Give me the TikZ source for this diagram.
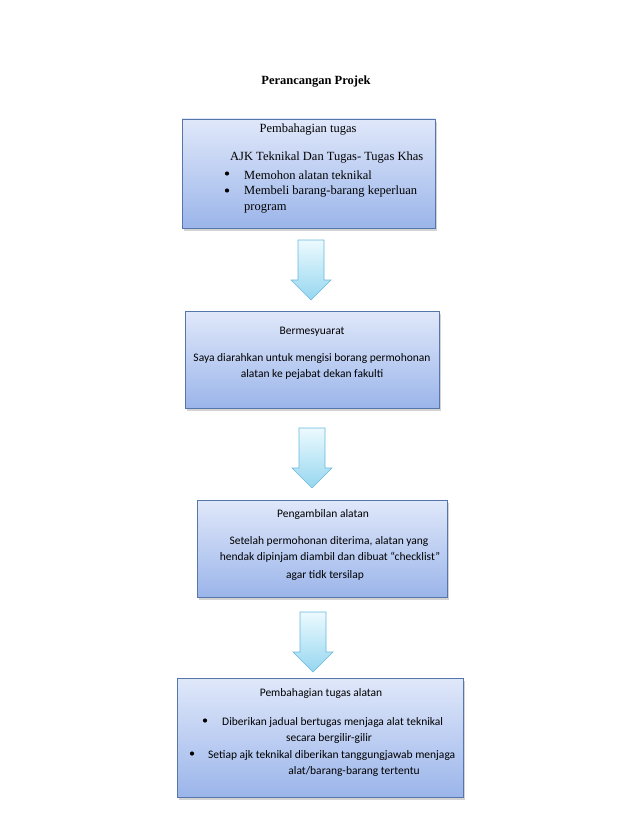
\documentclass[tikz,border=0pt]{standalone}
\usepackage{fontspec}
\setmainfont{Liberation Serif}
\newfontfamily\calfont{Carlito}
\usetikzlibrary{calc,shadows}
\definecolor{boxtop}{RGB}{224,232,250}
\definecolor{boxbot}{RGB}{155,181,234}
\definecolor{boxline}{RGB}{86,118,170}
\definecolor{arrtop}{RGB}{236,250,254}
\definecolor{arrbot}{RGB}{150,214,240}
\definecolor{arrline}{RGB}{105,185,220}
\tikzset{
  box/.style={draw=boxline, line width=0.9pt, top color=boxtop, bottom color=boxbot,
    drop shadow={shadow xshift=2pt, shadow yshift=-3pt, opacity=0.35}, inner sep=0pt},
  tx/.style={inner sep=0pt, font=\fontsize{12.5}{15}\selectfont},
  cx/.style={inner sep=0pt, font=\calfont\fontsize{11.5}{14}\selectfont},
  dot/.style={circle, fill=black, inner sep=0pt, minimum size=4.2pt},
  barr/.style={draw=arrline, line width=0.6pt, top color=arrtop, bottom color=arrbot}
}
\newcommand\blockarr[2]{%
  \path[barr] ($(#1)+(-13,0)$) -- ($(#1)+(13,0)$) -- ($(#2)+(13,-20)$) -- ($(#2)+(20,-20)$)
    -- (#2) -- ($(#2)+(-20,-20)$) -- ($(#2)+(-13,-20)$) -- cycle;}
\begin{document}
\begin{tikzpicture}[x=1pt,y=-1pt]
\useasboundingbox (0,0) rectangle (638,826);
\node[tx, font=\bfseries\fontsize{12.5}{15}\selectfont] (title) at (316,82) {Perancangan Projek};
% boxes
\node[box, minimum width=253pt, minimum height=109pt] (box1) at (308.5,173.5) {};
\node[box, minimum width=254pt, minimum height=97pt] (box2) at (312,359.5) {};
\node[box, minimum width=250pt, minimum height=97pt] (box3) at (322,548.5) {};
\node[box, minimum width=286pt, minimum height=119pt] (box4) at (320,737.5) {};
% arrows
\coordinate (a1s) at (311,240); \coordinate (a1e) at (311,300);
\coordinate (a2s) at (312,428); \coordinate (a2e) at (312,488);
\coordinate (a3s) at (313,612); \coordinate (a3e) at (313,672);
\blockarr{a1s}{a1e}
\blockarr{a2s}{a2e}
\blockarr{a3s}{a3e}
% box1 text
\node[tx] (b1h) at (308,130) {Pembahagian tugas};
\node[tx, anchor=west] (b1a) at (230,158) {AJK Teknikal Dan Tugas- Tugas Khas};
\node[dot] (b1d1) at (227,173.5) {};
\node[tx, anchor=west] (b1l1) at (244,175) {Memohon alatan teknikal};
\node[dot] (b1d2) at (227,190.5) {};
\node[tx, anchor=west] (b1l2) at (244,192) {Membeli barang-barang keperluan};
\node[tx, anchor=west] (b1l3) at (244,209) {program};
% box2 text
\node[cx] (b2h) at (312,332) {Bermesyuarat};
\node[cx] (b2l1) at (312,358) {Saya diarahkan untuk mengisi borang permohonan};
\node[cx] (b2l2) at (312,374) {alatan ke pejabat dekan fakulti};
% box3 text
\node[cx] (b3h) at (323,514) {Pengambilan alatan};
\node[cx] (b3l1) at (329,541) {Setelah permohonan diterima, alatan yang};
\node[cx] (b3l2) at (330,557) {hendak dipinjam diambil dan dibuat “checklist”};
\node[cx] (b3l3) at (325,575) {agar tidk tersilap};
% box4 text
\node[cx] (b4h) at (321,693) {Pembahagian tugas alatan};
\node[dot] (b4d1) at (205,720.5) {};
\node[cx, anchor=west] (b4l1) at (222,722) {Diberikan jadual bertugas menjaga alat teknikal};
\node[cx] (b4l2) at (329,738) {secara bergilir-gilir};
\node[dot] (b4d2) at (192,753.5) {};
\node[cx, anchor=west] (b4l3) at (208,755) {Setiap ajk teknikal diberikan tanggungjawab menjaga};
\node[cx] (b4l4) at (354,771) {alat/barang-barang tertentu};
\end{tikzpicture}
\end{document}
